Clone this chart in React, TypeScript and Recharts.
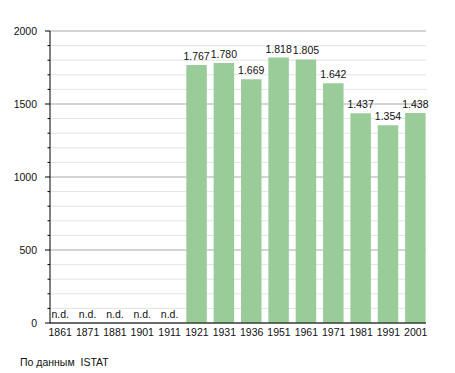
import React from 'react';
import { BarChart, Bar, XAxis, YAxis, CartesianGrid, LabelList } from 'recharts';

const years = ['1861', '1871', '1881', '1901', '1911', '1921', '1931', '1936', '1951', '1961', '1971', '1981', '1991', '2001'];
const population: (number | null)[] = [null, null, null, null, null, 1767, 1780, 1669, 1818, 1805, 1642, 1437, 1354, 1438];
const yTicks = Array.from({ length: 21 }, (_, i) => i * 100);
const majorStep = 500;

const W = 455;
const H = 373;
const TOP = 31;
const PLOT_H = 292;
const AXIS_X = 50;
const FONT = '"Liberation Sans", Arial, sans-serif';

const data = years.map((year, i) => ({ year, value: population[i] }));

const fmt = (v: number) => {
  const s = String(v);
  return s.length > 3 ? s.slice(0, s.length - 3) + '.' + s.slice(-3) : s;
};

const YTick = (props: any) => {
  const { y, payload } = props;
  const v = payload.value as number;
  const major = v % majorStep === 0;
  return (
    <g>
      <line x1={AXIS_X - (major ? 5 : 2.5)} x2={AXIS_X} y1={y} y2={y} stroke="#000" strokeWidth={1} />
      {major && (
        <text x={AXIS_X - 13} y={y} dy={3.8} textAnchor="end" fontSize={10.5} fontFamily={FONT} fill="#111">
          {v}
        </text>
      )}
    </g>
  );
};

const XTick = (props: any) => {
  const { x, y, payload, index } = props;
  const missing = population[index] == null;
  return (
    <g>
      {missing && (
        <text x={x} y={y - 5.5} textAnchor="middle" fontSize={10.5} fontFamily={FONT} fill="#111">
          n.d.
        </text>
      )}
      <text x={x} y={y + 13} textAnchor="middle" fontSize={10.5} fontFamily={FONT} fill="#111">
        {payload.value}
      </text>
    </g>
  );
};

const gridLine = (props: any) => {
  const { x1, x2, y1, y2 } = props;
  const v = Math.round(((TOP + PLOT_H - y1) / PLOT_H) * 2000);
  const major = v % majorStep === 0;
  return (
    <line key={props.key ?? `g-${y1}`} x1={x1} x2={x2} y1={y1} y2={y2} stroke={major ? '#aaaaaa' : '#e3e3e3'} strokeWidth={1} />
  );
};

export default function App() {
  return (
    <div style={{ position: 'absolute', left: 0, top: 0, width: W, height: H, background: '#fff' }}>
      <BarChart width={W} height={H} data={data} margin={{ top: TOP, right: 29, left: 0, bottom: 30 }}>
        <CartesianGrid vertical={false} horizontal={gridLine} />
        <XAxis
          dataKey="year"
          interval={0}
          tickSize={0}
          tickMargin={0}
          tickLine={false}
          axisLine={{ stroke: '#000', strokeWidth: 1 }}
          padding={{ left: -3.45, right: -3.45 }}
          tick={<XTick />}
          height={20}
        />
        <YAxis
          domain={[0, 2000]}
          ticks={yTicks}
          interval={0}
          width={50}
          tickLine={false}
          axisLine={{ stroke: '#000', strokeWidth: 1 }}
          tick={<YTick />}
        />
        <Bar dataKey="value" fill="#99cc99" barSize={20.5} isAnimationActive={false}>
          <LabelList
            dataKey="value"
            position="top"
            offset={5}
            formatter={(v: any) => (v == null ? '' : fmt(v))}
            style={{ fontSize: 10.5, fontFamily: FONT, fill: '#111' }}
          />
        </Bar>
      </BarChart>
      <div
        style={{
          position: 'absolute',
          left: 20,
          top: 356,
          fontSize: 10.5,
          fontFamily: FONT,
          color: '#111',
          whiteSpace: 'pre',
        }}
      >
        По данным  ISTAT
      </div>
    </div>
  );
}
